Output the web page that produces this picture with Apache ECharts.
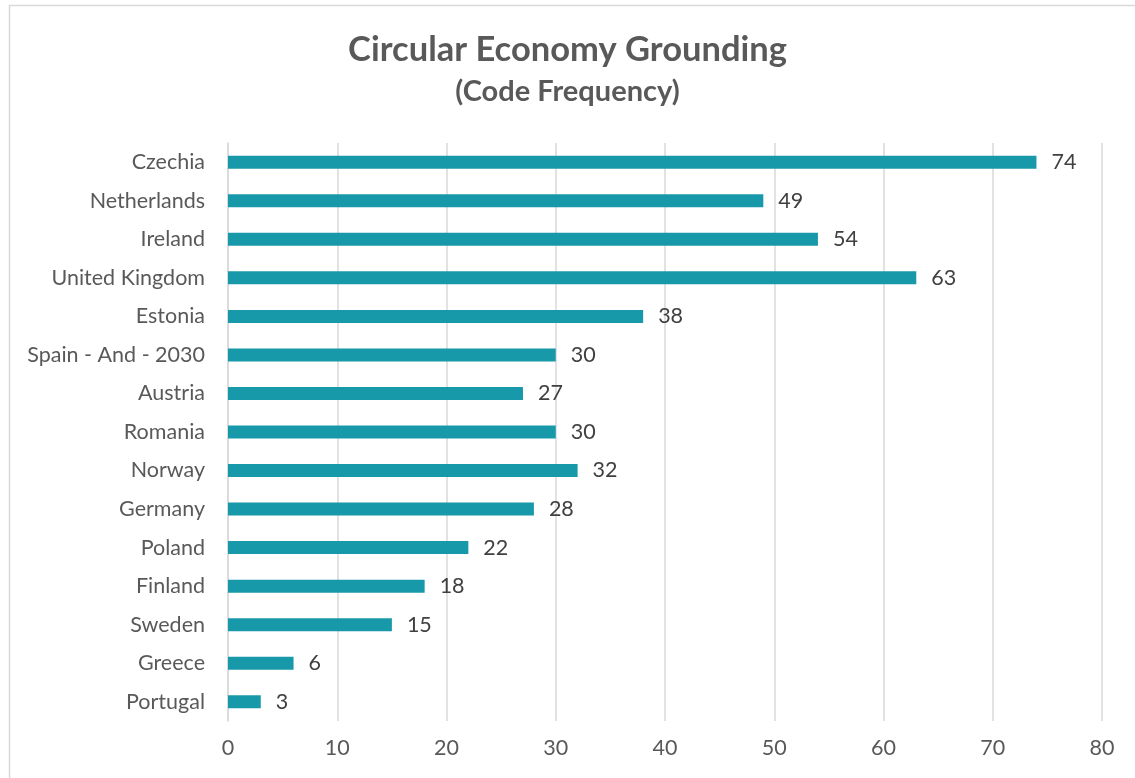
<!DOCTYPE html>
<html>
<head>
<meta charset="utf-8">
<script src="https://cdn.jsdelivr.net/npm/echarts@6/dist/echarts.min.js"></script>
<style>html,body{margin:0;padding:0;background:#fff;}#c{width:1135px;height:778px;}</style>
</head>
<body>
<div id="c"></div>
<script>
const categories = ["Czechia","Netherlands","Ireland","United Kingdom","Estonia","Spain - And - 2030","Austria","Romania","Norway","Germany","Poland","Finland","Sweden","Greece","Portugal"];
const values = [74,49,54,63,38,30,27,30,32,28,22,18,15,6,3];
const xTicks = {min:0, max:80, interval:10};
const titleText = "Circular Economy Grounding";
const subtitleText = "(Code Frequency)";

const chart = echarts.init(document.getElementById('c'), null, {renderer:'canvas'});
chart.setOption({
  backgroundColor:'#fff',
  animation:false,
  textStyle:{fontFamily:'Lato'},
  graphic:[{type:'rect', shape:{x:9.5,y:5.5,width:1140,height:800}, style:{fill:'none', stroke:'#d9d9d9', lineWidth:1.5}, silent:true}],
  title:{
    text:titleText, subtext:subtitleText, left:'center', top:27, itemGap:10,
    textStyle:{fontFamily:'Lato', fontSize:34.5, fontWeight:'bold', color:'#595959'},
    subtextStyle:{fontFamily:'Lato', fontSize:29, fontWeight:'bold', color:'#595959'}
  },
  grid:{left:228, right:33, top:143, height:578, containLabel:false},
  xAxis:{type:'value', min:xTicks.min, max:xTicks.max, interval:xTicks.interval,
    axisLine:{show:false}, axisTick:{show:false},
    splitLine:{show:true, lineStyle:{color:'#d9d9d9', width:1.5}},
    axisLabel:{fontFamily:'Lato', fontSize:21.5, color:'#595959', margin:16}},
  yAxis:{type:'category', data:categories, inverse:true,
    axisLine:{show:true, lineStyle:{color:'#d9d9d9', width:1.5}}, axisTick:{show:false},
    axisLabel:{fontFamily:'Lato', fontSize:21.5, color:'#595959', margin:23}},
  series:[{type:'bar', data:values, barWidth:13, itemStyle:{color:'#1899AA'},
    label:{show:true, position:'right', distance:15, fontFamily:'Lato', fontSize:21.5, color:'#404040'}}]
});
</script>
</body>
</html>
